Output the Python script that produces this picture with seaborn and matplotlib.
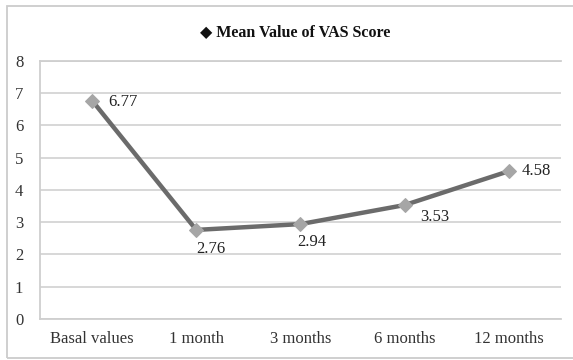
import matplotlib
matplotlib.use("Agg")
import matplotlib.pyplot as plt
import seaborn as sns
import pandas as pd
from matplotlib.patches import Rectangle

timepoints = ["Basal values", "1 month", "3 months", "6 months", "12 months"]
vas_mean = [6.77, 2.76, 2.94, 3.53, 4.58]
y_ticks = [0, 1, 2, 3, 4, 5, 6, 7, 8]
title_text = "\u25c6 Mean Value of VAS Score"

df = pd.DataFrame({"time": timepoints, "vas": vas_mean})

sns.set_theme(style="white")
plt.rcParams["font.family"] = ["Liberation Serif", "DejaVu Serif"]

fig = plt.figure(figsize=(5.73, 3.6), dpi=100)
ax = fig.add_axes([0.0698, 0.114, 0.909, 0.717])

sns.lineplot(data=df, x="time", y="vas", ax=ax, sort=False,
             color="#6b6b6b", linewidth=3.2, marker="D", markersize=7.5,
             markerfacecolor="#a6a6a6", markeredgecolor="#a6a6a6")

# value labels: offsets in points from each marker
offsets = [(12, -1, "left", "center"), (0, -8, "left", "top"), (-2, -7, "left", "top"),
           (11, -3, "left", "top"), (9, 0, "left", "center")]
for i, (v, (dx, dy, ha, va)) in enumerate(zip(vas_mean, offsets)):
    ax.annotate(f"{v:.2f}", (i, v), xytext=(dx, dy), textcoords="offset points",
                ha=ha, va=va, fontsize=12, color="#222222")

ax.set_xlim(-0.5, len(timepoints) - 0.5)
ax.set_ylim(0, 8)
ax.set_yticks(y_ticks)
ax.set_xlabel("")
ax.set_ylabel("")
ax.yaxis.grid(True, color="#d4d4d4", linewidth=1.3)
ax.set_axisbelow(True)
ax.spines["right"].set_visible(False)
for side in ["left", "bottom", "top"]:
    ax.spines[side].set_color("#cfcfcf")
    ax.spines[side].set_linewidth(1.3)
ax.tick_params(axis="both", length=0, labelsize=12, colors="#333333")
ax.tick_params(axis="y", pad=12)
ax.tick_params(axis="x", pad=9)

fig.text(0.515, 0.912, title_text, ha="center", va="center",
         fontsize=11.5, fontweight="bold", color="#111111")

fig.patches.append(Rectangle((7 / 573, 2 / 360), 1.2, 352 / 360, transform=fig.transFigure,
                             fill=False, edgecolor="#cccccc", linewidth=1.3, clip_on=False))

fig.savefig("out.png", dpi=100, facecolor="white")
